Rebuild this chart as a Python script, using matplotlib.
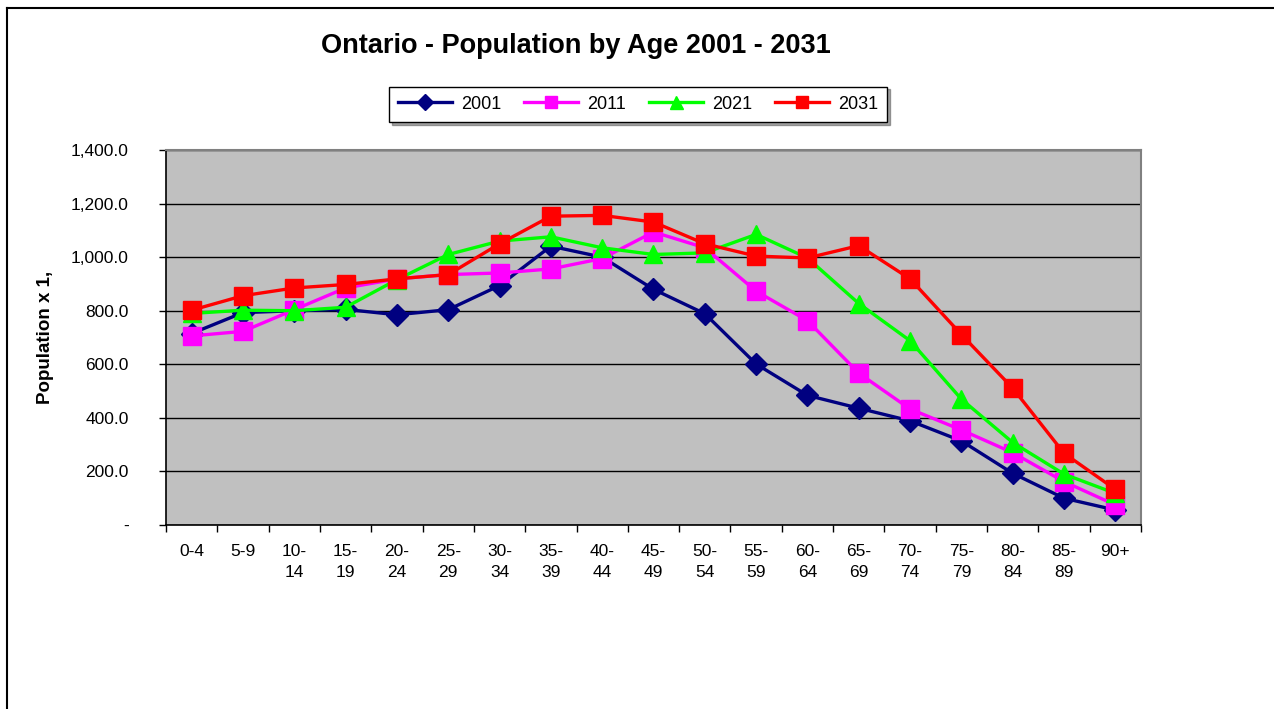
#Ontario population by age group, 2001-2031 projections
import numpy as np
import matplotlib.pyplot as plt
from matplotlib.lines import Line2D
from matplotlib.ticker import FuncFormatter

plt.rcParams['font.family'] = ['Liberation Sans', 'DejaVu Sans']

age_groups = ['0-4', '5-9', '10-\n14', '15-\n19', '20-\n24', '25-\n29', '30-\n34',
              '35-\n39', '40-\n44', '45-\n49', '50-\n54', '55-\n59', '60-\n64',
              '65-\n69', '70-\n74', '75-\n79', '80-\n84', '85-\n89', '90+']

pop_2001 = [715, 793, 800, 805, 785, 804, 894, 1041, 1000, 880,
            789, 601, 484, 436, 389, 314, 193, 100, 56]
pop_2011 = [706, 723, 804, 885, 919, 935, 941, 956, 995, 1094,
            1035, 873, 763, 567, 433, 355, 270, 162, 75]
pop_2021 = [790, 802, 800, 813, 916, 1010, 1060, 1076, 1035, 1010,
            1016, 1085, 997, 827, 688, 470, 308, 190, 118]
pop_2031 = [802, 856, 885, 898, 919, 935, 1050, 1153, 1156, 1131,
            1050, 1004, 997, 1043, 919, 711, 511, 268, 133]

x = np.arange(len(age_groups))

fig = plt.figure(figsize=(12.74, 7.09), dpi=100)
ax = fig.add_axes([0.1303, 0.2595, 0.7653, 0.5289])
ax.set_facecolor('#c0c0c0')

ax.plot(x, pop_2001, color='#000080', lw=2.4, marker='D', ms=11, label='2001')
ax.plot(x, pop_2011, color='#ff00ff', lw=2.4, marker='s', ms=12.5, label='2011')
ax.plot(x, pop_2021, color='#00ff00', lw=2.4, marker='^', ms=13, label='2021')
ax.plot(x, pop_2031, color='#ff0000', lw=2.4, marker='s', ms=12.5, label='2031')

ax.set_xlim(-0.5, len(age_groups) - 0.5)
ax.set_ylim(0, 1400)
ax.set_yticks(np.arange(0, 1401, 200))
ax.yaxis.set_major_formatter(FuncFormatter(lambda v, p: '-' if v == 0 else f'{v:,.1f}'))
ax.grid(axis='y', color='black', lw=1)
ax.set_axisbelow(True)

# category labels centred, ticks on the boundaries
ax.set_xticks(np.arange(-0.5, len(age_groups), 1))
ax.set_xticklabels([])
ax.set_xticks(x, minor=True)
ax.set_xticklabels(age_groups, minor=True, fontsize=12.5, va='top', linespacing=1.45)
ax.tick_params(axis='x', which='minor', length=0, pad=14)
ax.tick_params(axis='x', which='major', length=5, width=1)
ax.tick_params(axis='y', length=5, width=1, labelsize=12.5, pad=22)

for s in ['top', 'right']:
    ax.spines[s].set_color('#808080')
    ax.spines[s].set_linewidth(1.5)
for s in ['left', 'bottom']:
    ax.spines[s].set_color('black')
    ax.spines[s].set_linewidth(1.2)

ax.set_ylabel('Population x 1,', fontsize=13.5, fontweight='bold', labelpad=12)

fig.text(0.452, 0.935, 'Ontario - Population by Age 2001 - 2031', ha='center', va='center',
         fontsize=19.5, fontweight='bold')

leg = fig.legend(loc='center', bbox_to_anchor=(0.5008, 0.853), ncol=4, frameon=True,
                 fancybox=False, shadow=True, fontsize=13, handlelength=3.0,
                 markerscale=0.72, columnspacing=1.25, borderpad=0.5, handletextpad=0.5)
leg.get_frame().set_edgecolor('black')
leg.get_frame().set_linewidth(1)

# outer chart border
fig.add_artist(Line2D([7 / 1274, 7 / 1274], [0, 1 - 8 / 709], transform=fig.transFigure,
                      color='black', lw=1.5))
fig.add_artist(Line2D([7 / 1274, 1], [1 - 8 / 709, 1 - 8 / 709], transform=fig.transFigure,
                      color='black', lw=1.5))

fig.savefig('out.png', dpi=100)
